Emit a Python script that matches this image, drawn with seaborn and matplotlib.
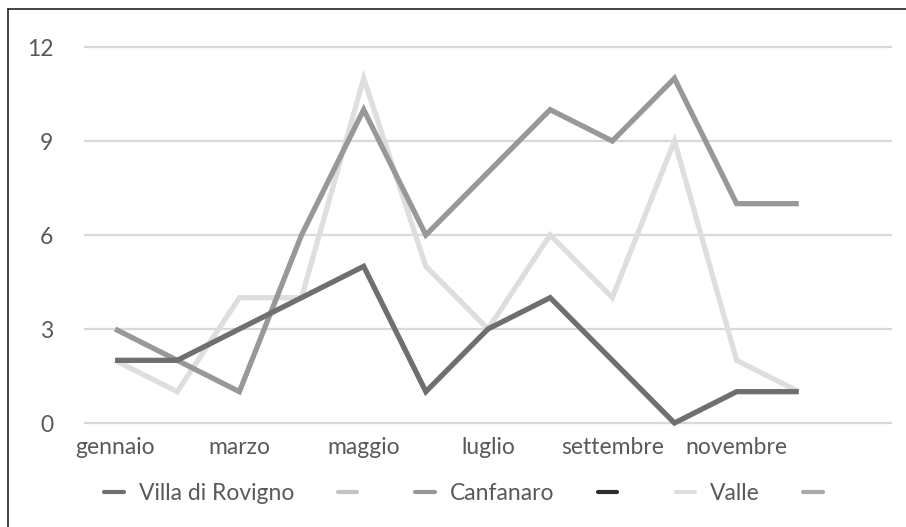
import matplotlib
matplotlib.use("Agg")
import matplotlib.pyplot as plt
from matplotlib.lines import Line2D
import seaborn as sns
import pandas as pd

# Monthly counts per locality (the 13th slot is an empty category)
months = ["gennaio", "febbraio", "marzo", "aprile", "maggio", "giugno", "luglio",
          "agosto", "settembre", "ottobre", "novembre", "dicembre", ""]
tick_labels = ["gennaio", "", "marzo", "", "maggio", "", "luglio", "",
               "settembre", "", "novembre", "", ""]
villa_di_rovigno = [2, 2, 3, 4, 5, 1, 3, 4, 2, 0, 1, 1]
canfanaro = [3, 2, 1, 6, 10, 6, 8, 10, 9, 11, 7, 7]
valle = [2, 1, 4, 4, 11, 5, 3, 6, 4, 9, 2, 1]
y_ticks = [0, 3, 6, 9, 12]

series_names = ["Villa di Rovigno", "Canfanaro", "Valle"]
series_values = [villa_di_rovigno, canfanaro, valle]
series_colors = {"Villa di Rovigno": "#6f6f6f", "Canfanaro": "#989898", "Valle": "#dedede"}

# legend shows six entries, three of them unlabeled
legend_labels = ["Villa di Rovigno", "", "Canfanaro", "", "Valle", ""]
legend_colors = ["#6f6f6f", "#c4c4c4", "#989898", "#2e2e2e", "#dedede", "#a9a9a9"]

rows = []
for name, vals in zip(series_names, series_values):
    for i, v in enumerate(vals):
        rows.append({"pos": i, "value": v, "series": name})
df = pd.DataFrame(rows)

sns.set_theme(style="white")
plt.rcParams["font.family"] = ["Lato", "DejaVu Sans"]

fig = plt.figure(figsize=(9.06, 5.27), dpi=100)
ax = fig.add_axes([84 / 906, 1 - 423 / 527, (892 - 84) / 906, (423 - 47) / 527])

for y in y_ticks:
    ax.axhline(y, color="#d9d9d9", lw=1.6, zorder=0, clip_on=False)

# draw the light series first so the darker lines sit on top
draw_order = ["Valle", "Canfanaro", "Villa di Rovigno"]
sns.lineplot(data=df, x="pos", y="value", hue="series", hue_order=draw_order,
             palette=series_colors, linewidth=3.8, legend=False, ax=ax,
             zorder=3, clip_on=False)
for line in ax.lines:
    line.set_solid_joinstyle("miter")
    line.set_solid_capstyle("butt")

ax.set_xlim(-0.5, len(months) - 0.5)
ax.set_ylim(0, 12)
ax.set_xticks(range(len(months)))
ax.set_xticklabels(tick_labels)
ax.set_yticks(y_ticks)
ax.set_xlabel("")
ax.set_ylabel("")
ax.tick_params(axis="both", length=0, labelsize=16.5, labelcolor="#595959")
ax.tick_params(axis="x", pad=10)
ax.tick_params(axis="y", pad=22)
for s in ax.spines.values():
    s.set_visible(False)

handles = [Line2D([0], [0], color=c, lw=3.0) for c in legend_colors]
fig.legend(handles, legend_labels, loc="center", bbox_to_anchor=(471 / 906, 1 - 494 / 527),
           ncol=6, frameon=False, fontsize=16.5, labelcolor="#595959",
           handlelength=0.85, handletextpad=0.65, columnspacing=1.9)

# frame edges along the top and left
fig.add_artist(Line2D([8 / 906, 8 / 906], [0, 1 - 9 / 527], color="#222222", lw=1.2,
                      transform=fig.transFigure))
fig.add_artist(Line2D([8 / 906, 1], [1 - 9 / 527, 1 - 9 / 527], color="#222222", lw=1.2,
                      transform=fig.transFigure))

fig.savefig("out.png", dpi=100, facecolor="white")
